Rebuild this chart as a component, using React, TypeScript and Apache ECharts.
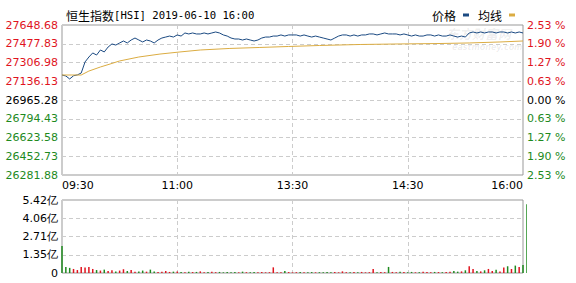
import React, { useEffect, useRef } from "react";
import * as echarts from "echarts";

const titleName = "恒生指数";
const titleInfo = "[HSI] 2019-06-10 16:00";
const prevClose = 26965.28;
const priceTicks = ["26281.88", "26452.73", "26623.58", "26794.43", "26965.28", "27136.13", "27306.98", "27477.83", "27648.68"];
const pctTicks = ["2.53 %", "1.90 %", "1.27 %", "0.63 %", "0.00 %", "0.63 %", "1.27 %", "1.90 %", "2.53 %"];
const timeTicks = ["09:30", "11:00", "13:30", "14:30", "16:00"];
const volTicks = ["0", "1.35亿", "2.71亿", "4.06亿", "5.42亿"];

const price = [
  27193, 27184, 27157, 27186, 27194, 27211, 27312, 27357, 27394, 27375,
  27421, 27403, 27448, 27476, 27466, 27485, 27503, 27485, 27512, 27530,
  27512, 27494, 27512, 27503, 27485, 27512, 27530, 27539, 27548, 27539,
  27558, 27548, 27576, 27567, 27576, 27567, 27567, 27576, 27567, 27576,
  27585, 27576, 27558, 27548, 27530, 27521, 27521, 27512, 27521, 27512,
  27503, 27512, 27530, 27539, 27539, 27548, 27548, 27558, 27548, 27558,
  27558, 27558, 27548, 27558, 27548, 27539, 27548, 27539, 27530, 27521,
  27512, 27530, 27548, 27558, 27558, 27548, 27558, 27548, 27558, 27558,
  27567, 27567, 27558, 27567, 27576, 27567, 27567, 27567, 27558, 27567,
  27558, 27548, 27558, 27548, 27548, 27558, 27558, 27548, 27558, 27548,
  27548, 27558, 27548, 27539, 27548, 27539, 27576, 27585, 27576, 27585,
  27576, 27585, 27585, 27576, 27585, 27585, 27576, 27585, 27576, 27585,
  27576,
];

const avgIdx = [0, 5, 7, 10, 12.5, 15, 20, 25.5, 30.7, 36, 43.7, 51.5, 59, 67, 77.6, 88, 98.4, 106, 114, 120];
const avgValues = [27193, 27193, 27229, 27266, 27293, 27321, 27357, 27384, 27403, 27421, 27435, 27444, 27453, 27462, 27471, 27476, 27480, 27485, 27494, 27503];

const volume = [
  2.0, 0.45, 0.38, 0.3, 0.22, 0.45, 0.4, 0.45, 0.3, 0.22, 0.18,
  0.25, 0.15, 0.2, 0.12, 0.18, 0.28, 0.15, 0.22, 0.1, 0.12,
  0.18, 0.1, 0.25, 0.12, 0.08, 0.1, 0.15, 0.08, 0.1, 0.12,
  0.08, 0.06, 0.1, 0.07, 0.08, 0.12, 0.06, 0.08, 0.1, 0.06,
  0.08, 0.05, 0.07, 0.06, 0.08, 0.05, 0.1, 0.06, 0.05, 0.07,
  0.06, 0.08, 0.05, 0.06, 0.42, 0.06, 0.05, 0.15, 0.07, 0.05,
  0.06, 0.08, 0.05, 0.06, 0.07, 0.05, 0.06, 0.05, 0.07, 0.06,
  0.08, 0.05, 0.12, 0.06, 0.05, 0.07, 0.06, 0.08, 0.05, 0.06,
  0.3, 0.05, 0.07, 0.06, 0.45, 0.08, 0.06, 0.1, 0.07, 0.06,
  0.08, 0.05, 0.06, 0.1, 0.07, 0.06, 0.08, 0.07, 0.06, 0.08,
  0.1, 0.15, 0.1, 0.12, 0.2, 0.5, 0.3, 0.15, 0.12, 0.2,
  0.3, 0.15, 0.25, 0.12, 0.4, 0.5, 0.3, 0.55, 0.45, 0.6,
  5.1,
];

const RED = "#e0141e";
const GREEN = "#1e8a1e";
const FONT = "DejaVu Sans";

export default function App() {
  const ref = useRef<HTMLDivElement>(null);
  useEffect(() => {
    if (!ref.current) return;
    const chart = echarts.init(ref.current, null, { renderer: "svg" });
    const pInt = 170.85;
    const pMin = -4 * pInt;
    const pMax = 4 * pInt;
    const labelIdx = (v: number, min: number, iv: number) => Math.round((v - min) / iv);

    chart.setOption({
      animation: false,
      backgroundColor: "#fff",
      title: {
        text: `{a|${titleName}}{b|${titleInfo}}`,
        left: 61,
        top: 4,
        textStyle: {
          fontSize: 12, fontWeight: "normal", color: "#000",
          rich: {
            a: { fontSize: 12, color: "#000", fontFamily: "Noto Sans CJK SC" },
            b: { fontSize: 10.6, color: "#000", fontFamily: "DejaVu Sans Mono" },
          },
        },
      },
      legend: {
        data: ["价格", "均线"],
        right: 56,
        top: 4,
        align: "right",
        itemWidth: 6,
        itemHeight: 3,
        itemGap: 9,
        icon: "rect",
        selectedMode: false,
        textStyle: { fontSize: 12, color: "#000", fontFamily: "Noto Sans CJK SC", padding: [0, 2, 0, 0] },
      },
      graphic: [
        { type: "text", left: 446, top: 27, z: 0, silent: true, style: { text: "东方财富网", fill: "rgba(0,0,0,0.08)", font: "italic bold 13px Noto Sans CJK SC" } },
        { type: "text", left: 452, top: 43, z: 0, silent: true, style: { text: "eastmoney.com", fill: "rgba(0,0,0,0.08)", font: "italic bold 8px DejaVu Sans" } },
      ],
      grid: [
        { left: 62, right: 53, top: 25, height: 150, show: true, borderColor: "#999", borderWidth: 1 },
        { left: 62, right: 53, top: 200, height: 73, show: true, borderColor: "#999", borderWidth: 1 },
      ],
      xAxis: [
        {
          type: "value", gridIndex: 0, min: 0, max: 120, interval: 30,
          axisLine: { show: false }, axisTick: { show: false },
          splitLine: { show: true, lineStyle: { color: "#ccc", type: [4, 3] } },
          axisLabel: {
            margin: 5, fontSize: 11, fontFamily: FONT, color: "#000",
            alignMinLabel: "left", alignMaxLabel: "right",
            formatter: (v: number) => timeTicks[labelIdx(v, 0, 30)] ?? "",
          },
        },
        {
          type: "value", gridIndex: 1, min: 0, max: 120, interval: 30,
          axisLine: { show: false }, axisTick: { show: false }, axisLabel: { show: false },
          splitLine: { show: true, lineStyle: { color: "#ccc", type: [4, 3] } },
        },
      ],
      yAxis: [
        {
          type: "value", gridIndex: 0, min: pMin, max: pMax, interval: pInt,
          axisLine: { show: false }, axisTick: { show: false },
          splitLine: { show: true, lineStyle: { color: "#ccc", type: [4, 3] } },
          axisLabel: {
            margin: 4, fontSize: 11, fontFamily: FONT,
            formatter: (v: number) => {
              const i = labelIdx(v, pMin, pInt);
              const s = priceTicks[i] ?? "";
              return i > 4 ? `{r|${s}}` : i < 4 ? `{g|${s}}` : `{k|${s}}`;
            },
            rich: {
              r: { color: RED, fontSize: 11, fontFamily: FONT },
              g: { color: GREEN, fontSize: 11, fontFamily: FONT },
              k: { color: "#000", fontSize: 11, fontFamily: FONT },
            },
          },
        },
        {
          type: "value", gridIndex: 0, position: "right", min: -4, max: 4, interval: 1,
          axisLine: { show: false }, axisTick: { show: false }, splitLine: { show: false },
          axisLabel: {
            margin: 4, fontSize: 11, fontFamily: FONT,
            formatter: (v: number) => {
              const i = labelIdx(v, -4, 1);
              const s = pctTicks[i] ?? "";
              return i > 4 ? `{r|${s}}` : i < 4 ? `{g|${s}}` : `{k|${s}}`;
            },
            rich: {
              r: { color: RED, fontSize: 11, fontFamily: FONT },
              g: { color: GREEN, fontSize: 11, fontFamily: FONT },
              k: { color: "#000", fontSize: 11, fontFamily: FONT },
            },
          },
        },
        {
          type: "value", gridIndex: 1, min: 0, max: 5.42, interval: 1.355,
          axisLine: { show: false }, axisTick: { show: false },
          splitLine: { show: true, lineStyle: { color: "#ccc", type: [4, 3] } },
          axisLabel: {
            margin: 4, fontSize: 11, fontFamily: FONT, color: "#000",
            formatter: (v: number) => volTicks[labelIdx(v, 0, 1.355)] ?? "",
          },
        },
      ],
      series: [
        {
          name: "价格", type: "line", xAxisIndex: 0, yAxisIndex: 0, symbol: "none",
          color: "#1b4a82", lineStyle: { width: 1, color: "#1b4a82" },
          data: price.map((v, i) => [i, v - prevClose]),
        },
        {
          name: "均线", type: "line", xAxisIndex: 0, yAxisIndex: 0, symbol: "none",
          color: "#dbac42", lineStyle: { width: 1, color: "#dbac42" },
          data: avgValues.map((v, i) => [avgIdx[i], v - prevClose]),
        },
        {
          name: "成交量", type: "bar", xAxisIndex: 1, yAxisIndex: 2, barWidth: 1.5,
          data: volume.map((v, i) => ({
            value: [i, v],
            itemStyle: { color: i > 0 && price[i] >= price[i - 1] ? RED : GREEN },
          })),
        },
      ],
    });
    return () => chart.dispose();
  }, []);
  return <div ref={ref} style={{ position: "fixed", left: 0, top: 0, width: 576, height: 283 }} />;
}
